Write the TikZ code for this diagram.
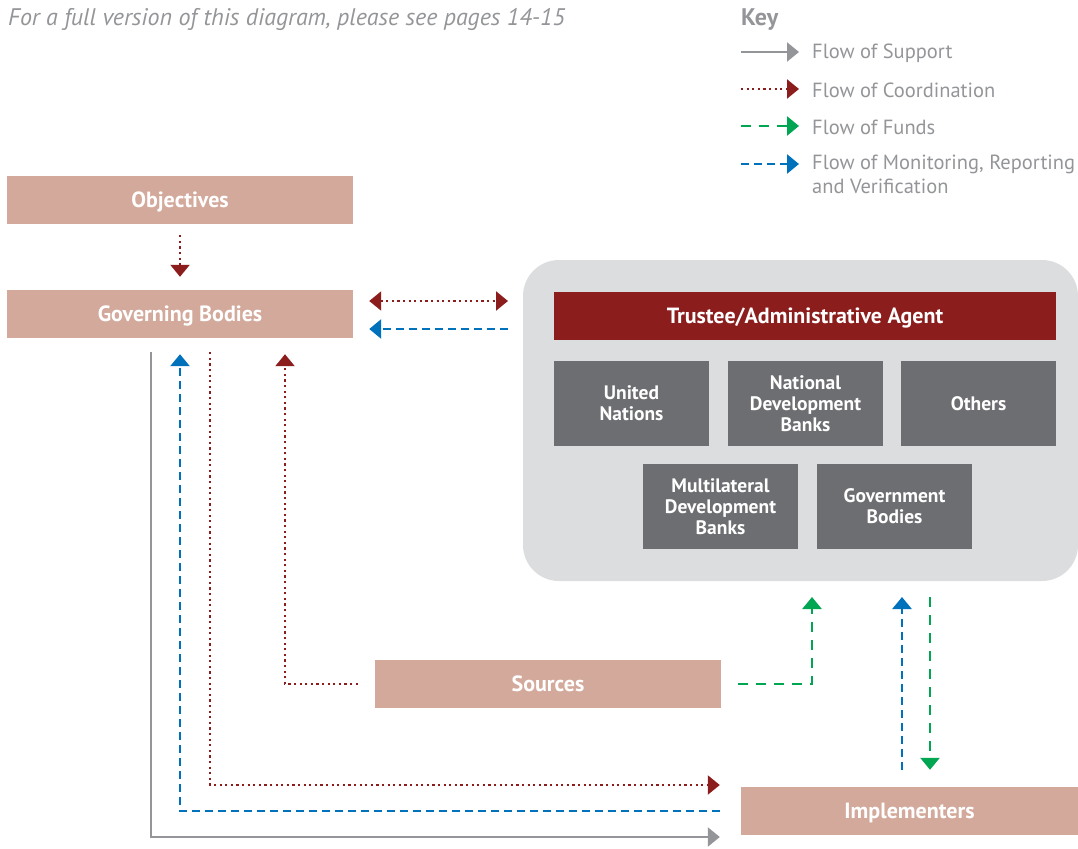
\documentclass[tikz,border=0pt]{standalone}
\usepackage{fontspec}
\setmainfont{PT Sans}
\usepackage{tikz}
\usetikzlibrary{calc,positioning,arrows.meta}
\definecolor{salmon}{HTML}{D3A99B}
\definecolor{darkred}{HTML}{8C1D1D}
\definecolor{boxgrey}{HTML}{6D6E71}
\definecolor{panelgrey}{HTML}{DCDDDE}
\definecolor{keygrey}{HTML}{939598}
\definecolor{fundgreen}{HTML}{00A651}
\definecolor{mrvblue}{HTML}{0072BC}
\tikzset{
  % box styles
  % gebruik: \node[actor] (naam) at (x,y) {tekst};
  actor/.style={rectangle,fill=salmon,text=white,font=\fontsize{22}{24}\selectfont\bfseries,minimum width=346pt,minimum height=48pt,inner sep=0pt,text height=16pt,text depth=1pt},
  agent/.style={actor,fill=darkred,minimum width=502pt},
  member/.style={rectangle,fill=boxgrey,text=white,font=\fontsize{19.5}{21}\selectfont\bfseries,minimum width=155pt,minimum height=85pt,align=center,inner sep=0pt},
  keytext/.style={text=keygrey,font=\fontsize{20.5}{24}\selectfont,anchor=west,align=left,inner sep=0pt},
  % flow styles
  tip/.style={-{Triangle[length=12pt,width=19pt]}},
  support/.style={draw=keygrey,line width=2.2pt,tip},
  coordination/.style={draw=darkred,line width=2.2pt,dash pattern=on 2.2pt off 3.4pt,tip},
  funds/.style={draw=fundgreen,line width=2.6pt,dash pattern=on 10pt off 8pt,tip},
  mrv/.style={draw=mrvblue,line width=2.6pt,dash pattern=on 8pt off 5pt,tip},
}

\begin{document}
\begin{tikzpicture}[x=1pt,y=-1pt]
  \useasboundingbox (0,0) rectangle (1078,848);
  % header
  \node[anchor=west,inner sep=0pt,text=keygrey,font=\fontsize{24}{26}\selectfont\itshape] (note) at (8,20) {For a full version of this diagram, please see pages 14-15};
  % key
  \node[keytext,font=\fontsize{24}{26}\selectfont\bfseries] (key) at (741,20) {Key};
  \coordinate (k1a) at (741,52);  \coordinate (k1b) at (799,52);
  \coordinate (k2a) at (741,89);  \coordinate (k2b) at (799,89);
  \coordinate (k3a) at (741,126); \coordinate (k3b) at (799,126);
  \coordinate (k4a) at (741,164); \coordinate (k4b) at (799,164);
  \draw[support] (k1a) -- (k1b);
  \draw[coordination] (k2a) -- (k2b);
  \draw[funds] (k3a) -- (k3b);
  \draw[mrv] (k4a) -- (k4b);
  \node[keytext] (ksup) at (812,53) {Flow of Support};
  \node[keytext] (kcoo) at (812,90) {Flow of Coordination};
  \node[keytext] (kfun) at (812,127) {Flow of Funds};
  \node[keytext,anchor=north west] (kmrv) at (812,155) {Flow of Monitoring, Reporting\\and Verification};
  % grey panel with the agents
  \fill[panelgrey,rounded corners=36pt] (523,260) rectangle (1078,581);
  \node[agent] (trustee) at (805,316) {Trustee/Administrative Agent};
  \node[member] (un) at (631.5,403.5) {United\\Nations};
  \node[member] (ndb) at (805.5,403.5) {National\\Development\\Banks};
  \node[member] (others) at (978.5,403.5) {Others};
  \node[member] (mdb) at (720.5,506.5) {Multilateral\\Development\\Banks};
  \node[member] (gov) at (894.5,506.5) {Government\\Bodies};
  \coordinate (panelW) at (523,316);
  \coordinate (panelS) at (805,581);
  % actors
  \node[actor] (obj) at (180,200) {Objectives};
  \node[actor] (gb) at (180,314) {Governing Bodies};
  \node[actor] (src) at (548,684) {Sources};
  \node[actor,minimum width=337pt] (impl) at (909.5,811) {Implementers};
  % flows
  \draw[coordination,shorten <=11pt,shorten >=13pt] (obj) -- (gb);
  \draw[coordination,{Triangle[length=12pt,width=19pt]}-{Triangle[length=12pt,width=19pt]},shorten <=16pt,shorten >=15pt]
    ($(gb.east)+(0,-13)$) -- ($(panelW)+(0,-15)$);
  \draw[mrv,shorten <=15pt,shorten >=16pt] ($(panelW)+(0,13)$) -- ($(gb.east)+(0,15)$);
  \draw[support,shorten <=14pt] (gb.south -| 151,0) |- ($(impl.west)+(-21,26)$);
  \draw[mrv,shorten >=16pt] ($(impl.west)+(-21,0)$) -| (gb.south);
  \draw[coordination,shorten <=14pt] (gb.south -| 210,0) |- ($(impl.west)+(-21,-26)$);
  \draw[coordination,shorten <=17pt,shorten >=16pt] (src.west) -| (gb.south -| 285,0);
  \draw[funds,shorten <=17pt,shorten >=16pt] (src.east) -| (panelS -| 812,0);
  \draw[mrv,shorten <=17pt,shorten >=16pt] (impl.north -| 902,0) -- (panelS -| 902,0);
  \draw[funds,shorten <=16pt,shorten >=17pt] (panelS -| 930,0) -- (impl.north -| 930,0);
\end{tikzpicture}
\end{document}
